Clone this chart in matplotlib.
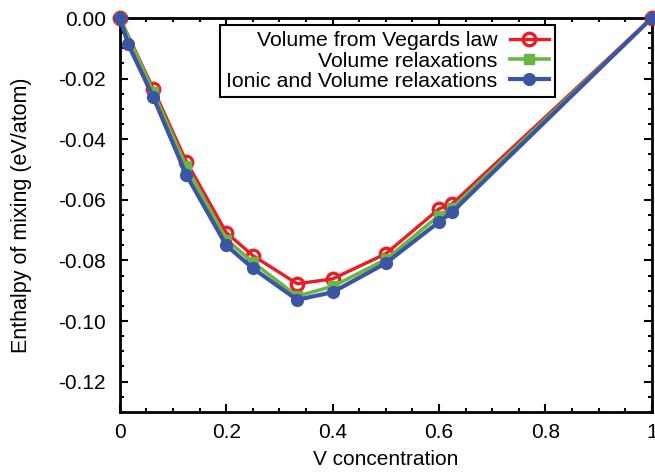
import matplotlib.pyplot as plt
from matplotlib.ticker import MultipleLocator, FormatStrFormatter, FuncFormatter

plt.rcParams['font.family'] = ['Liberation Sans', 'DejaVu Sans']
plt.rcParams['axes.unicode_minus'] = False

# V concentration
x_main = [0, 0.0625, 0.125, 0.2, 0.25, 1/3, 0.4, 0.5, 0.6, 0.625, 1.0]
x_ionic = [0, 0.015625, 0.0625, 0.125, 0.2, 0.25, 1/3, 0.4, 0.5, 0.6, 0.625, 1.0]

# enthalpy of mixing (eV/atom)
h_vegard = [0.0, -0.0233, -0.0474, -0.0708, -0.0784, -0.0877, -0.0861, -0.0778, -0.0630, -0.0613, 0.0]
h_volume = [0.0, -0.0243, -0.0490, -0.0731, -0.0806, -0.0918, -0.0886, -0.0797, -0.0652, -0.0627, 0.0]
h_ionic = [0.0, -0.0087, -0.0260, -0.0518, -0.0750, -0.0826, -0.0930, -0.0905, -0.0809, -0.0673, -0.0640, 0.0]

fig = plt.figure(figsize=(6.55, 4.74), dpi=100)
ax = fig.add_axes([0.183, 0.131, 0.812, 0.831])

ax.plot(x_main, h_vegard, color='#ec1c24', lw=2.4, marker='o', ms=9,
        mfc='none', mew=2.4, label='Volume from Vegards law', clip_on=False, zorder=3)
ax.plot(x_main, h_volume, color='#6ab545', lw=2.6, marker='s', ms=7,
        label='Volume relaxations', clip_on=False, zorder=4)
ax.plot(x_ionic, h_ionic, color='#3b55a5', lw=3.0, marker='o', ms=8.5,
        label='Ionic and Volume relaxations', clip_on=False, zorder=5)

ax.set_xlim(0, 1)
ax.set_ylim(-0.13, 0)
ax.xaxis.set_major_locator(MultipleLocator(0.2))
ax.xaxis.set_minor_locator(MultipleLocator(0.05))
ax.yaxis.set_major_locator(MultipleLocator(0.02))
ax.yaxis.set_minor_locator(MultipleLocator(0.005))
ax.xaxis.set_major_formatter(FuncFormatter(lambda v, p: '%g' % round(v, 2)))
ax.yaxis.set_major_formatter(FormatStrFormatter('%.2f'))

for s in ax.spines.values():
    s.set_linewidth(2.0)
ax.tick_params(which='both', direction='in', top=True, right=True, width=1.5)
ax.tick_params(which='major', length=6, labelsize=15)
ax.tick_params(which='minor', length=3)
ax.tick_params(axis='x', pad=8)
ax.tick_params(axis='y', pad=10)

ax.set_xlabel('V concentration', fontsize=15, labelpad=6)
ax.set_ylabel('Enthalpy of mixing (eV/atom)', fontsize=15.5, labelpad=19)

leg = ax.legend(loc='upper right', bbox_to_anchor=(0.818, 0.982), markerfirst=False,
                fontsize=15.3, fancybox=False, framealpha=1, edgecolor='black',
                labelspacing=0.05, borderpad=0.3, handlelength=1.8,
                handletextpad=0.6, borderaxespad=0)
leg.get_frame().set_linewidth(1.5)

fig.savefig('out.png', dpi=100)
